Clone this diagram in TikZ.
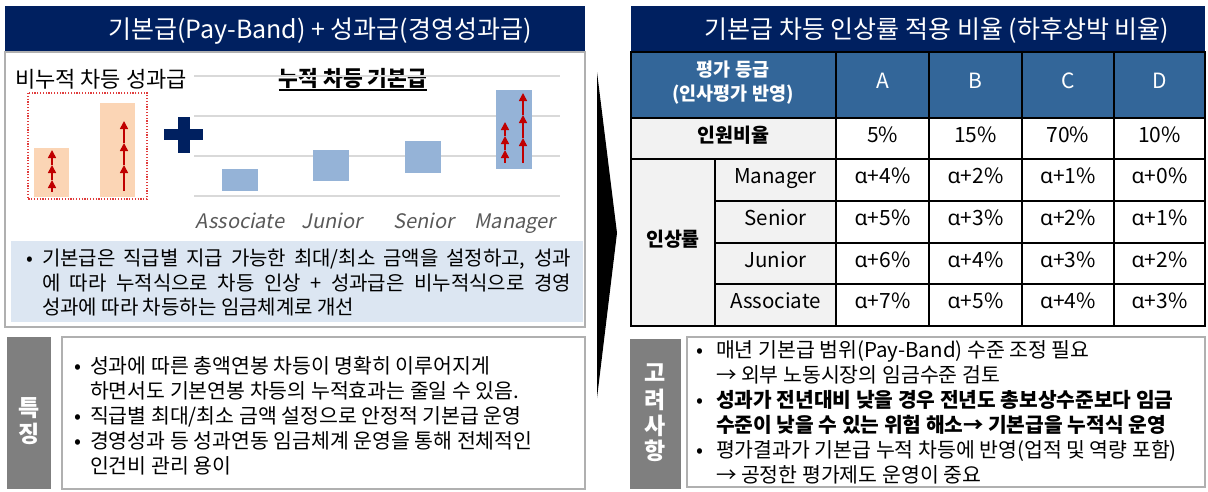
\documentclass[tikz,border=0pt]{standalone}
\usepackage{fontspec}
\setmainfont{Noto Sans CJK KR}
\newfontfamily\chartfont[FakeSlant=0.2]{Noto Sans CJK KR}
\newfontfamily\grk{Noto Sans}
\usetikzlibrary{arrows.meta}
\definecolor{navy}{HTML}{002060}
\definecolor{hdrblue}{HTML}{336699}
\definecolor{lblgray}{HTML}{7F7F7F}
\definecolor{cellgray}{HTML}{F2F2F2}
\definecolor{paleblue}{HTML}{DCE6F2}
\definecolor{barblue}{HTML}{95B3D7}
\definecolor{barorange}{HTML}{FBD5B5}
\definecolor{arrred}{HTML}{C00000}
\definecolor{dotred}{HTML}{E03C3C}
\definecolor{gridgray}{HTML}{D9D9D9}
\definecolor{bordergray}{HTML}{B0B0B0}
\definecolor{labelgray}{HTML}{595959}
\newcommand{\mularr}[3]{%
  \foreach \t [remember=\t as \prev (initially #2)] in {#3} {
    \draw[arr] (#1,\prev) -- (#1,\t);
  }}
\newcommand{\tcell}[7]{%
  \filldraw[fill=#5, draw=black, line width=1.4pt] (#1,#2) rectangle (#3,#4);
  \node[celltext] (#6) at ({(#1+#3)/2},{(#2+#4)/2}) {#7};}
\begin{document}
\begin{tikzpicture}[x=1pt,y=-1pt,
  every node/.style={inner sep=0pt, outer sep=0pt},
  fs/.style={font=\fontsize{#1}{#1}\selectfont},
  fsb/.style={font=\fontsize{#1}{#1}\selectfont\bfseries},
  boxline/.style={draw=bordergray, line width=1.5pt},
  arr/.style={draw=arrred, line width=1.6pt, -{Triangle[width=8pt,length=8pt]}, fill=arrred},
  celltext/.style={text height=0.8em, text depth=0.05em, anchor=center},
  ]
\useasboundingbox (0,0) rectangle (1208,491);

% ---------------- left panel ----------------
\fill[navy] (5,6) rectangle (585,52);
\node[fs=25, text=white, anchor=base] (lt) at (320,38) {기본급(Pay-Band) + 성과급(경영성과급)};
\draw[boxline] (5,52) rectangle (585,327);

\node[fs=22, anchor=base west] (nonacc) at (15,87) {비누적 차등 성과급};
\node[fsb=21.5, anchor=base] (acc) at (353,86) {누적 차등 기본급};
\path (acc.base west) ++(0,4) coordinate (ul1);
\path (acc.base east) ++(0,4) coordinate (ul2);
\draw[line width=1.3pt] (ul1) -- (ul2);

% gridlines
\foreach \gy in {76,116,156,196} \draw[gridgray, line width=1.5pt] (194,\gy) -- (560,\gy);

% non-cumulative bars
\fill[barorange] (34,148) rectangle (69,197);
\fill[barorange] (100,103) rectangle (135,197);
\draw[dotred, line width=1.2pt, dash pattern=on 1.2pt off 1.6pt] (28,93) rectangle (147,199);
\mularr{52}{192}{180,165,150}
\mularr{124}{191}{165,143,121}

% plus
\fill[navy] (178,117) rectangle (190,153);
\fill[navy] (164,129) rectangle (203,140);

% cumulative bars
\fill[barblue] (222,169) rectangle (258,191);
\fill[barblue] (313,150) rectangle (349,181);
\fill[barblue] (405,141) rectangle (441,173);
\fill[barblue] (496,90) rectangle (532,169);
\mularr{505}{163}{150,136,122}
\mularr{523}{163}{138,115,93}

\node[font=\fontsize{20}{20}\selectfont\chartfont, text=labelgray, anchor=base] (la) at (240,228) {Associate};
\node[font=\fontsize{20}{20}\selectfont\chartfont, text=labelgray, anchor=base] (lj) at (332,228) {Junior};
\node[font=\fontsize{20}{20}\selectfont\chartfont, text=labelgray, anchor=base] (ls) at (424,228) {Senior};
\node[font=\fontsize{20}{20}\selectfont\chartfont, text=labelgray, anchor=base] (lm) at (515,228) {Manager};

% pale blue summary
\fill[paleblue] (11,241) rectangle (583,322);
\node[fs=20, anchor=base west] (b1) at (26,265) {•};
\node[fs=20, anchor=base west] (s1) at (42,265) {\makebox[529pt][s]{기본급은 직급별 지급 가능한 최대/최소 금액을 설정하고, 성과}};
\node[fs=20, anchor=base west] (s2) at (42,290) {\makebox[529pt][s]{에 따라 누적식으로 차등 인상 + 성과급은 비누적식으로 경영}};
\node[fs=20, anchor=base west] (s3) at (42,314) {성과에 따라 차등하는 임금체계로 개선};

% feature section
\fill[lblgray] (7,337) rectangle (51,489);
\node[fsb=23, text=white, anchor=center] (f1) at (29,408) {특};
\node[fsb=23, text=white, anchor=center] (f2) at (29,434) {징};
\draw[boxline] (62,337) rectangle (585,489);
\node[fs=20.5, anchor=base west] (fb1) at (74,373) {•};
\node[fs=20.5, anchor=base west] (ft1) at (90,373) {성과에 따른 총액연봉 차등이 명확히 이루어지게};
\node[fs=20.5, anchor=base west] (ft2) at (90,398) {하면서도 기본연봉 차등의 누적효과는 줄일 수 있음.};
\node[fs=20.5, anchor=base west] (fb3) at (74,423) {•};
\node[fs=20.5, anchor=base west] (ft3) at (90,423) {직급별 최대/최소 금액 설정으로 안정적 기본급 운영};
\node[fs=20.5, anchor=base west] (fb4) at (74,448) {•};
\node[fs=20.5, anchor=base west] (ft4) at (90,448) {경영성과 등 성과연동 임금체계 운영을 통해 전체적인};
\node[fs=20.5, anchor=base west] (ft5) at (90,473) {인건비 관리 용이};

% chevron
\fill[black] (597,72) -- (617,233) -- (597,398) -- cycle;

% ---------------- right panel ----------------
\fill[navy] (631,6) rectangle (1205,52);
\node[fs=25, text=white, anchor=base] (rt) at (937,38) {기본급 차등 인상률 적용 비율 (하후상박 비율)};

\begin{scope}[every node/.append style={font=\fontsize{21}{21}\selectfont}]
\tcell{631}{52}{836}{118}{hdrblue}{hg}{}
\tcell{836}{52}{929}{118}{hdrblue}{ha}{\textcolor{white}{A}}
\tcell{929}{52}{1022}{118}{hdrblue}{hb}{\textcolor{white}{B}}
\tcell{1022}{52}{1114}{118}{hdrblue}{hc}{\textcolor{white}{C}}
\tcell{1114}{52}{1205}{118}{hdrblue}{hd}{\textcolor{white}{D}}
\tcell{631}{118}{836}{159}{cellgray}{pr}{\fontsize{19.5}{19.5}\selectfont\bfseries 인원비율}
\tcell{836}{118}{929}{159}{white}{pa}{5\%}
\tcell{929}{118}{1022}{159}{white}{pb}{15\%}
\tcell{1022}{118}{1114}{159}{white}{pc}{70\%}
\tcell{1114}{118}{1205}{159}{white}{pd}{10\%}
\tcell{631}{159}{715}{326}{cellgray}{ir}{\fontsize{19.5}{19.5}\selectfont\bfseries 인상률}
\tcell{715}{159}{836}{201}{cellgray}{rm}{\fontsize{20.5}{20.5}\selectfont Manager}
\tcell{715}{201}{836}{243}{cellgray}{rs}{\fontsize{20.5}{20.5}\selectfont Senior}
\tcell{715}{243}{836}{284}{cellgray}{rj}{\fontsize{20.5}{20.5}\selectfont Junior}
\tcell{715}{284}{836}{326}{cellgray}{ra}{\fontsize{20.5}{20.5}\selectfont Associate}
\tcell{836}{159}{929}{201}{white}{m1}{{\grk α}+4\%}
\tcell{929}{159}{1022}{201}{white}{m2}{{\grk α}+2\%}
\tcell{1022}{159}{1114}{201}{white}{m3}{{\grk α}+1\%}
\tcell{1114}{159}{1205}{201}{white}{m4}{{\grk α}+0\%}
\tcell{836}{201}{929}{243}{white}{s1c}{{\grk α}+5\%}
\tcell{929}{201}{1022}{243}{white}{s2c}{{\grk α}+3\%}
\tcell{1022}{201}{1114}{243}{white}{s3c}{{\grk α}+2\%}
\tcell{1114}{201}{1205}{243}{white}{s4c}{{\grk α}+1\%}
\tcell{836}{243}{929}{284}{white}{j1}{{\grk α}+6\%}
\tcell{929}{243}{1022}{284}{white}{j2}{{\grk α}+4\%}
\tcell{1022}{243}{1114}{284}{white}{j3}{{\grk α}+3\%}
\tcell{1114}{243}{1205}{284}{white}{j4}{{\grk α}+2\%}
\tcell{836}{284}{929}{326}{white}{a1}{{\grk α}+7\%}
\tcell{929}{284}{1022}{326}{white}{a2}{{\grk α}+5\%}
\tcell{1022}{284}{1114}{326}{white}{a3}{{\grk α}+4\%}
\tcell{1114}{284}{1205}{326}{white}{a4}{{\grk α}+3\%}
\end{scope}
\node[fsb=18.5, text=white, celltext] (hg1) at (733,73) {평가 등급};
\node[fsb=18.5, text=white, celltext] (hg2) at (733,97) {(인사평가 반영)};

% considerations
\fill[lblgray] (630,339) rectangle (681,489);
\node[fsb=23, text=white] (c1) at (655,373) {고};
\node[fsb=23, text=white] (c2) at (655,400) {려};
\node[fsb=23, text=white] (c3) at (655,426) {사};
\node[fsb=23, text=white] (c4) at (655,451) {항};
\draw[boxline] (687,337) rectangle (1205,487);
\node[fs=20.5, anchor=base west] (cb1) at (696,357) {•};
\node[fs=20.5, anchor=base west] (ct1) at (716,357) {매년 기본급 범위(Pay-Band) 수준 조정 필요};
\node[fs=20.5, anchor=base west] (ct2) at (716,382) {→ 외부 노동시장의 임금수준 검토};
\node[fs=20.5, anchor=base west] (cb3) at (696,407) {•};
\node[fsb=20.3, anchor=base west] (ct3) at (716,407) {성과가 전년대비 낮을 경우 전년도 총보상수준보다 임금};
\node[fsb=20.3, anchor=base west] (ct4) at (716,432) {수준이 낮을 수 있는 위험 해소→ 기본급을 누적식 운영};
\node[fs=20.5, anchor=base west] (cb5) at (696,457) {•};
\node[fs=20.5, anchor=base west] (ct5) at (716,457) {평가결과가 기본급 누적 차등에 반영(업적 및 역량 포함)};
\node[fs=20.5, anchor=base west] (ct6) at (716,482) {→ 공정한 평가제도 운영이 중요};
\end{tikzpicture}
\end{document}
